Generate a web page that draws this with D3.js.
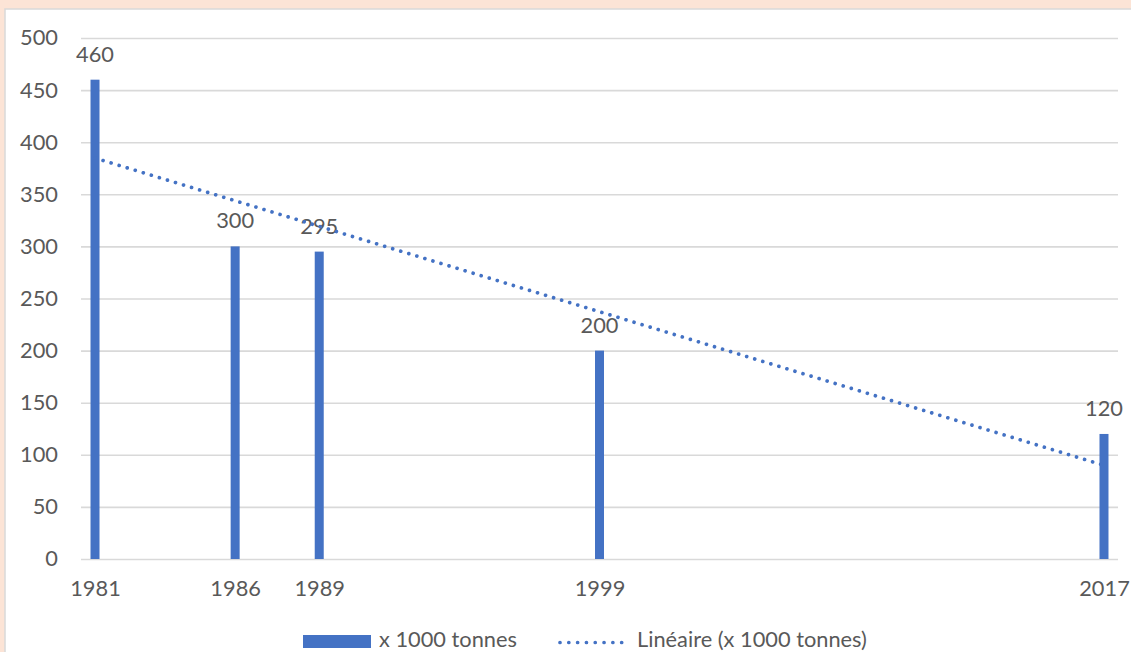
<!DOCTYPE html>
<html>
<head>
<meta charset="utf-8">
<script src="https://cdn.jsdelivr.net/npm/d3@7/dist/d3.min.js"></script>
<style>
  html, body { margin: 0; padding: 0; background: #FCE4D6; }
  svg { display: block; }
  text { font-family: Lato, "Open Sans", sans-serif; fill: #595959; }
</style>
</head>
<body>
<svg id="chart" width="1131" height="652"></svg>
<script>
const years = [1981, 1986, 1989, 1999, 2017];
const values = [460, 300, 295, 200, 120];
const yTicks = [0, 50, 100, 150, 200, 250, 300, 350, 400, 450, 500];
const seriesName = "x 1000 tonnes";
const trendName = "Linéaire (x 1000 tonnes)";

const svg = d3.select("#chart");
const W = 1131, H = 652;
const color = "#4472C4";
const fontSize = 21.8;

// chart area (white panel)
svg.append("rect").attr("x", 5).attr("y", 9).attr("width", W + 10).attr("height", H + 10)
  .attr("fill", "#ffffff").attr("stroke", "#d9d9d9").attr("stroke-width", 1.5);

const x = d3.scaleLinear().domain([1980.5, 2017.5]).range([81, 1118]);
const y = d3.scaleLinear().domain([0, 500]).range([559, 38]);

// gridlines + y labels
const yAxis = d3.axisLeft(y).tickValues(yTicks).tickSize(-(1118 - 81)).tickPadding(23).tickFormat(d3.format("d"));
const gy = svg.append("g").attr("transform", "translate(81,0)").call(yAxis);
gy.select(".domain").remove();
gy.selectAll(".tick line").attr("stroke", "#d9d9d9").attr("stroke-width", 1.6);
gy.selectAll(".tick text").attr("font-size", fontSize).attr("fill", "#595959")
  .attr("font-family", "Lato, 'Open Sans', sans-serif");

// x axis labels
const xAxis = d3.axisBottom(x).tickValues(years).tickSize(0).tickPadding(22).tickFormat(d3.format("d"));
const gx = svg.append("g").attr("transform", "translate(0,559)").call(xAxis);
gx.select(".domain").remove();
gx.selectAll(".tick text").attr("font-size", fontSize).attr("fill", "#595959")
  .attr("font-family", "Lato, 'Open Sans', sans-serif");

// bars
const barW = 9;
const data = years.map((yr, i) => ({ yr, v: values[i] }));
svg.append("g").selectAll("rect").data(data).join("rect")
  .attr("x", d => x(d.yr) - barW / 2)
  .attr("y", d => y(d.v))
  .attr("width", barW)
  .attr("height", d => y(0) - y(d.v))
  .attr("fill", color);

// data labels
svg.append("g").selectAll("text").data(data).join("text")
  .attr("x", d => x(d.yr))
  .attr("y", d => y(d.v) - 18)
  .attr("text-anchor", "middle")
  .attr("font-size", fontSize)
  .text(d => d.v);

// linear trend (least squares)
const mx = d3.mean(years), my = d3.mean(values);
const sxy = d3.sum(years, (yr, i) => (yr - mx) * (values[i] - my));
const sxx = d3.sum(years, yr => (yr - mx) ** 2);
const slope = sxy / sxx, intercept = my - slope * mx;
const x0 = d3.min(years), x1 = d3.max(years);
svg.append("line")
  .attr("x1", x(x0)).attr("y1", y(intercept + slope * x0))
  .attr("x2", x(x1)).attr("y2", y(intercept + slope * x1))
  .attr("stroke", color).attr("stroke-width", 3.7)
  .attr("stroke-linecap", "round").attr("stroke-dasharray", "0.01,8.4");

// legend
const lg = svg.append("g");
lg.append("rect").attr("x", 303).attr("y", 635).attr("width", 68).attr("height", 13).attr("fill", color);
lg.append("text").attr("x", 379).attr("y", 647).attr("font-size", fontSize).text(seriesName);
lg.append("line").attr("x1", 560).attr("x2", 624).attr("y1", 642.5).attr("y2", 642.5)
  .attr("stroke", color).attr("stroke-width", 3.7)
  .attr("stroke-linecap", "round").attr("stroke-dasharray", "0.01,8.8");
lg.append("text").attr("x", 637).attr("y", 647).attr("font-size", fontSize).text(trendName);
</script>
</body>
</html>
